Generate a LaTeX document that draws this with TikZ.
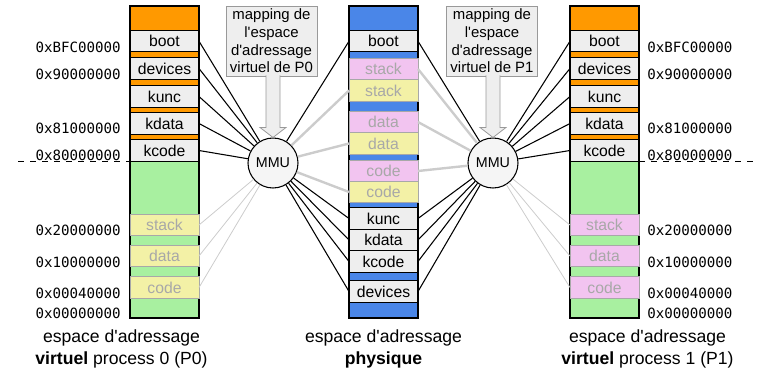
\documentclass[tikz,border=0pt]{standalone}
\usepackage{fontspec}
\setmainfont{Liberation Sans}
\newfontfamily\addrfont{DejaVu Sans Mono}
\usetikzlibrary{calc}
\definecolor{korange}{HTML}{FF9900}
\definecolor{ugreen}{HTML}{A8F0A0}
\definecolor{pblue}{HTML}{4A86E8}
\definecolor{upink}{HTML}{F2C4F0}
\definecolor{uyellow}{HTML}{F3F1A6}
\definecolor{kgrey}{HTML}{EEEEEE}
\definecolor{ugrey}{HTML}{A8A8A8}
\definecolor{lgrey}{HTML}{CCCCCC}
\definecolor{mgrey}{HTML}{999999}
\newcommand{\ap}{\textquotesingle}

\begin{document}
\begin{tikzpicture}[x=0.75pt,y=-0.75pt]
	\tikzset{
		K/.style={draw,fill=kgrey,line width=0.8pt,minimum width=51.75pt,minimum height=16pt,inner sep=0pt,outer sep=0pt,font=\fontsize{11.8}{13}\selectfont},
		U/.style={K,line width=0.6pt,draw=ugrey,text=ugrey},
		A/.style={inner sep=0pt,font=\addrfont\fontsize{10.6}{12}\selectfont},
		M/.style={draw=mgrey,fill=kgrey,minimum width=68pt,minimum height=52.5pt,inner sep=0pt,align=center,font=\fontsize{11.2}{13.3}\selectfont},
		C/.style={align=center,inner sep=0pt,font=\fontsize{13.2}{16.5}\selectfont},
		kl/.style={line width=0.8pt},
		ul/.style={draw=lgrey,line width=0.6pt},
		ulb/.style={draw=lgrey,line width=1.8pt},
	}
	\useasboundingbox (0,0) rectangle (761,372);
	
	% virtuel P0
	\draw[fill=korange,line width=0.8pt] (130,6) rectangle (199,161);
	\draw[fill=ugreen,line width=0.8pt] (130,161) rectangle (199,318);
	\node[K] (lboot) at (164.5,41.2) {boot};
	\node[K] (ldev) at (164.5,68.5) {devices};
	\node[K] (lkunc) at (164.5,96.5) {kunc};
	\node[K] (lkdata) at (164.5,123.5) {kdata};
	\node[K] (lkcode) at (164.5,150.5) {kcode};
	\node[U,fill=uyellow] (lstack) at (164.5,225) {stack};
	\node[U,fill=uyellow] (ldata) at (164.5,256) {data};
	\node[U,fill=uyellow] (lcode) at (164.5,287.5) {code};
	
	\node[A,anchor=east] (la1) at (121,47) {0xBFC00000};
	\node[A,anchor=east] (la2) at (121,74) {0x90000000};
	\node[A,anchor=east] (la3) at (121,128) {0x81000000};
	\node[A,anchor=east] (la4) at (121,155) {0x80000000};
	\node[A,anchor=east] (la5) at (121,230) {0x20000000};
	\node[A,anchor=east] (la6) at (121,262) {0x10000000};
	\node[A,anchor=east] (la7) at (121,293) {0x00040000};
	\node[A,anchor=east] (la8) at (121,313) {0x00000000};
	\coordinate (ldash) at (18,161);
	\coordinate (lsplit) at (130,161);
	\draw[dash pattern=on 4.5pt off 4.5pt,line width=0.6pt] (ldash) -- (lsplit);
	
	\node[C] (cap0) at (121.5,349) {espace d\ap adressage\\\textbf{virtuel} process 0 (P0)};
	
	% physique
	\draw[fill=pblue,line width=0.8pt] (349,6) rectangle (418,318);
	\node[K] (pboot) at (383.5,41.2) {boot};
	\node[U,fill=upink] (pstack1) at (383.5,69) {stack};
	\node[U,fill=uyellow] (pstack0) at (383.5,90.5) {stack};
	\node[U,fill=upink] (pdata1) at (383.5,122) {data};
	\node[U,fill=uyellow] (pdata0) at (383.5,143.5) {data};
	\node[U,fill=upink] (pcode1) at (383.5,171) {code};
	\node[U,fill=uyellow] (pcode0) at (383.5,192) {code};
	\node[K] (pkunc) at (383.5,218.5) {kunc};
	\node[K] (pkdata) at (383.5,240) {kdata};
	\node[K] (pkcode) at (383.5,261.5) {kcode};
	\node[K] (pdev) at (383.5,291.5) {devices};
	
	\node[C] (capp) at (383.5,349) {espace d\ap adressage\\\textbf{physique}};
	
	% virtuel P1
	\draw[fill=korange,line width=0.8pt] (570,6) rectangle (639,161);
	\draw[fill=ugreen,line width=0.8pt] (570,161) rectangle (639,318);
	\node[K] (rboot) at (604.5,41.2) {boot};
	\node[K] (rdev) at (604.5,68.5) {devices};
	\node[K] (rkunc) at (604.5,96.5) {kunc};
	\node[K] (rkdata) at (604.5,123.5) {kdata};
	\node[K] (rkcode) at (604.5,150.5) {kcode};
	\node[U,fill=upink] (rstack) at (604.5,225) {stack};
	\node[U,fill=upink] (rdata) at (604.5,256) {data};
	\node[U,fill=upink] (rcode) at (604.5,287.5) {code};
	
	\node[A,anchor=west] (ra1) at (647,47) {0xBFC00000};
	\node[A,anchor=west] (ra2) at (647,74) {0x90000000};
	\node[A,anchor=west] (ra3) at (647,128) {0x81000000};
	\node[A,anchor=west] (ra4) at (647,155) {0x80000000};
	\node[A,anchor=west] (ra5) at (647,230) {0x20000000};
	\node[A,anchor=west] (ra6) at (647,262) {0x10000000};
	\node[A,anchor=west] (ra7) at (647,293) {0x00040000};
	\node[A,anchor=west] (ra8) at (647,313) {0x00000000};
	\coordinate (rdash) at (753,161);
	\coordinate (rsplit) at (639,161);
	\draw[dash pattern=on 4.5pt off 4.5pt,line width=0.6pt] (rsplit) -- (rdash);
	
	\node[C] (cap1) at (647.5,349) {espace d\ap adressage\\\textbf{virtuel} process 1 (P1)};
	
	% MMU
	\node[draw,circle,fill=kgrey!60,line width=0.8pt,minimum size=37.5pt,inner sep=0pt,font=\fontsize{10.7}{12}\selectfont] (mmu0) at (273,163) {MMU};
	\node[draw,circle,fill=kgrey!60,line width=0.8pt,minimum size=37.5pt,inner sep=0pt,font=\fontsize{10.7}{12}\selectfont] (mmu1) at (493,163) {MMU};
	\node[M] (map0) at (271.5,41) {mapping de\\l\ap espace\\d\ap adressage\\virtuel de P0};
	\node[M] (map1) at (492,41) {mapping de\\l\ap espace\\d\ap adressage\\virtuel de P1};
	\foreach \m/\p in {0/map0,1/map1}{
		\draw[draw=mgrey,fill=kgrey,line width=0.6pt]
		($(\p.south -| mmu\m)+(-7,-1)$) -- ($(mmu\m.north)+(-7,-10)$) -- ($(mmu\m.north)+(-13,-10)$)
		-- (mmu\m.north) -- ($(mmu\m.north)+(13,-10)$) -- ($(mmu\m.north)+(7,-10)$) -- ($(\p.south -| mmu\m)+(7,-1)$);
	}
	
	% P0
	\foreach \n in {lboot,ldev,lkunc,lkdata,lkcode}
		\draw[kl] (\n.east) -- (mmu0);
	\foreach \n in {pboot,pkunc,pkdata,pkcode,pdev}
		\draw[kl] (mmu0) -- (\n.west);
	\foreach \n in {lstack,ldata,lcode}
		\draw[ul] (\n.east) -- (mmu0);
	\foreach \n in {pstack0,pdata0,pcode0}
		\draw[ulb] (mmu0) -- (\n.west);
	
	% P1
	\foreach \n in {rboot,rdev,rkunc,rkdata,rkcode}
		\draw[kl] (\n.west) -- (mmu1);
	\foreach \n in {pboot,pkunc,pkdata,pkcode,pdev}
		\draw[kl] (mmu1) -- (\n.east);
	\foreach \n in {rstack,rdata,rcode}
		\draw[ul] (\n.west) -- (mmu1);
	\foreach \n in {pstack1,pdata1,pcode1}
		\draw[ulb] (mmu1) -- (\n.east);
\end{tikzpicture}
\end{document}
